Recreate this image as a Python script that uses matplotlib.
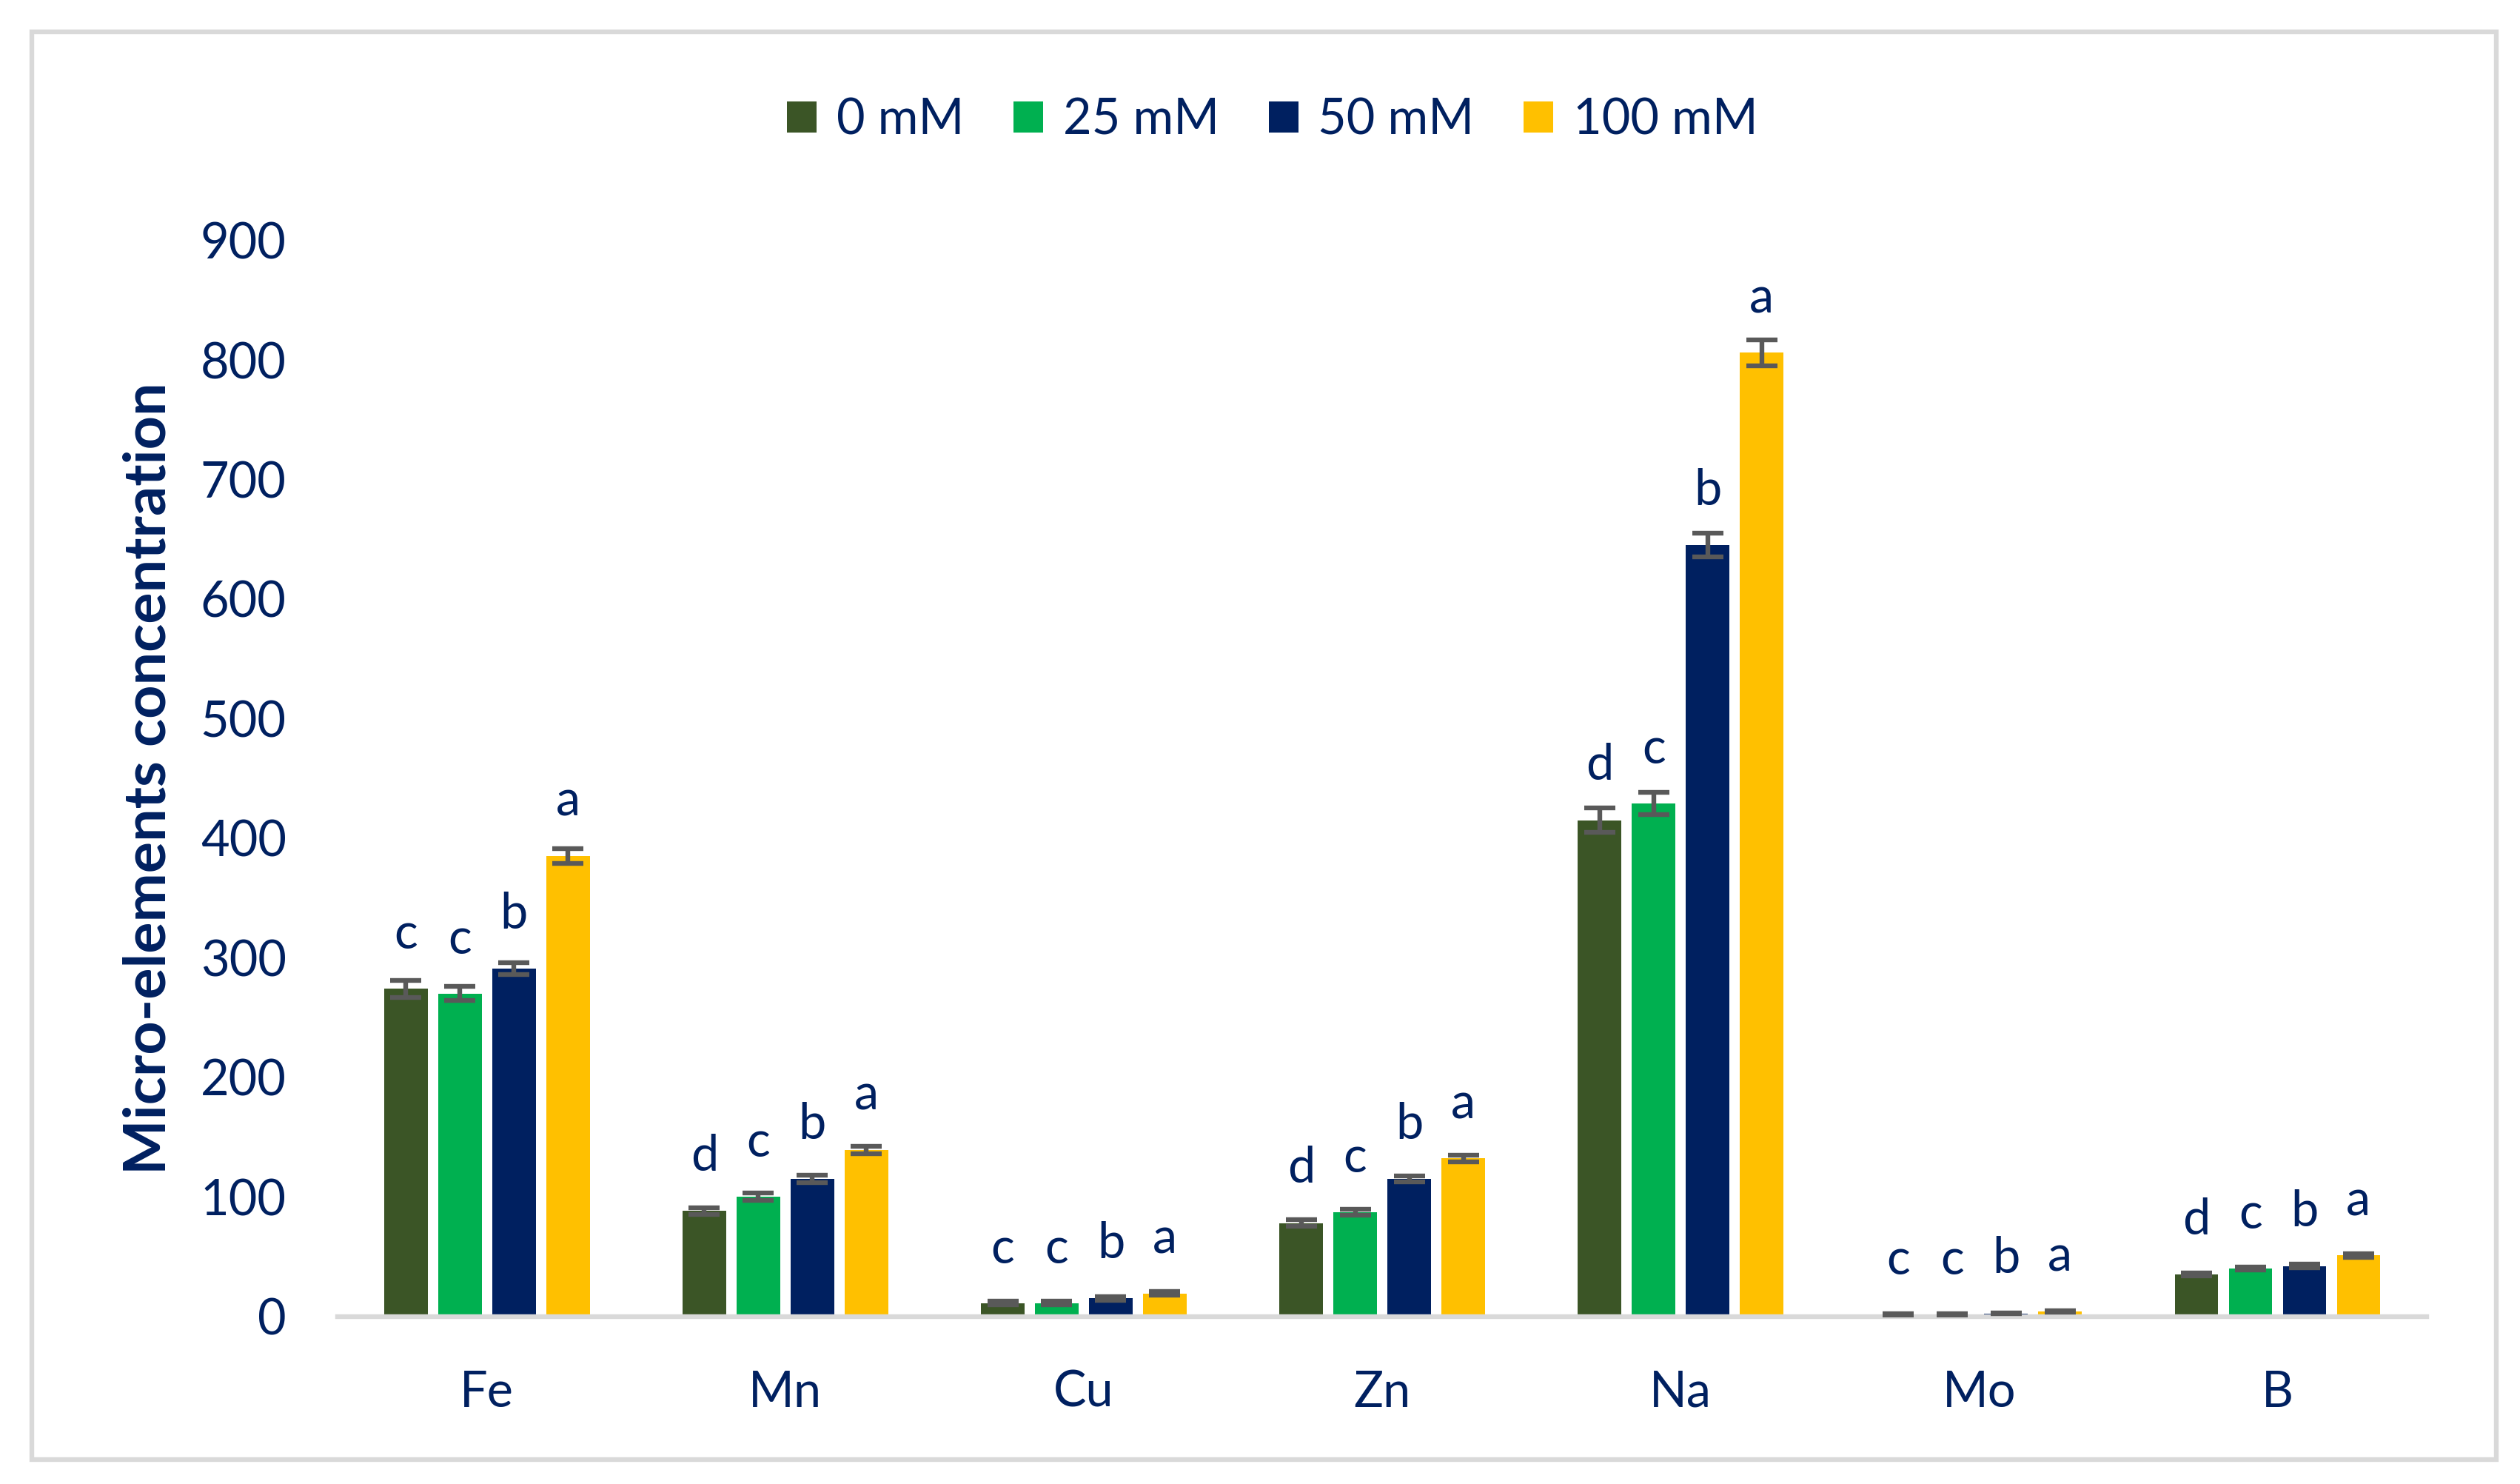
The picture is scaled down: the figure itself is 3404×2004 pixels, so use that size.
import numpy as np
import matplotlib.pyplot as plt
from matplotlib.patches import Rectangle

elements = ["Fe", "Mn", "Cu", "Zn", "Na", "Mo", "B"]
treatments = ["0 mM", "25 mM", "50 mM", "100 mM"]

# mean values per treatment (one value per element)
mean_0 = [274, 88, 11, 78, 415, 1.5, 35]
mean_25 = [270, 100, 11, 87, 429, 1.5, 40]
mean_50 = [291, 115, 15, 115, 645, 2.5, 42]
mean_100 = [385, 139, 19, 132, 806, 4, 51]

err_0 = [7, 3, 1.5, 3, 10, 0.5, 1.5]
err_25 = [6, 3, 1.5, 2.5, 9, 0.5, 1.5]
err_50 = [5, 3, 1.5, 2.5, 10, 0.5, 1.5]
err_100 = [6, 3, 1.5, 3, 11, 0.5, 1.5]

letters_0 = ["c", "d", "c", "d", "d", "c", "d"]
letters_25 = ["c", "c", "c", "c", "c", "c", "c"]
letters_50 = ["b", "b", "b", "b", "b", "b", "b"]
letters_100 = ["a", "a", "a", "a", "a", "a", "a"]

colors = ["#3B5526", "#00B050", "#002060", "#FFC000"]
text_color = "#002060"

plt.rcParams['font.family'] = ['Lato', 'DejaVu Sans']

means = [mean_0, mean_25, mean_50, mean_100]
errs = [err_0, err_25, err_50, err_100]
letters = [letters_0, letters_25, letters_50, letters_100]

fig = plt.figure(figsize=(17.02, 10.02), dpi=200)
ax = fig.add_axes([0.134, 0.113, 0.829, 0.725])

x = np.arange(len(elements))
pitch = 0.181
width = 0.146
for i in range(4):
    pos = x + (i - 1.5) * pitch
    ax.bar(pos, means[i], width=width, color=colors[i], label=treatments[i], zorder=2)
    ax.errorbar(pos, means[i], yerr=errs[i], fmt='none', ecolor='#595959',
                elinewidth=2.3, capsize=7.5, capthick=2.3, zorder=3)
    for xi, yi, lab in zip(pos, means[i], letters[i]):
        ax.annotate(lab, (xi, yi), xytext=(0, 19.5), textcoords='offset points',
                    ha='center', va='baseline', fontsize=24, color=text_color)

ax.set_xlim(-0.5, 6.5)
ax.set_ylim(0, 900)
ax.set_yticks(np.arange(0, 901, 100))
ax.set_xticks(x)
ax.set_xticklabels(elements)
ax.tick_params(axis='both', length=0, labelsize=24, labelcolor=text_color)
ax.tick_params(axis='y', pad=25)
ax.tick_params(axis='x', pad=26)
for s in ['top', 'right', 'left']:
    ax.spines[s].set_visible(False)
ax.spines['bottom'].set_color('#D9D9D9')
ax.spines['bottom'].set_linewidth(2.3)

ax.set_ylabel("Micro-elements concentration", fontsize=28.5, fontweight='bold',
              color=text_color, labelpad=12)

handles, labels = ax.get_legend_handles_labels()
fig.legend(handles, labels, loc='center', bbox_to_anchor=(0.505, 0.919), ncol=4,
           frameon=False, fontsize=24, labelcolor=text_color, handlelength=0.6,
           handleheight=0.6, handletextpad=0.4, columnspacing=1.0)

fig.patches.append(Rectangle((0.0127, 0.0165), 0.978, 0.962, transform=fig.transFigure,
                             fill=False, edgecolor='#D9D9D9', linewidth=2.3))

fig.savefig("out.png", dpi=200)
